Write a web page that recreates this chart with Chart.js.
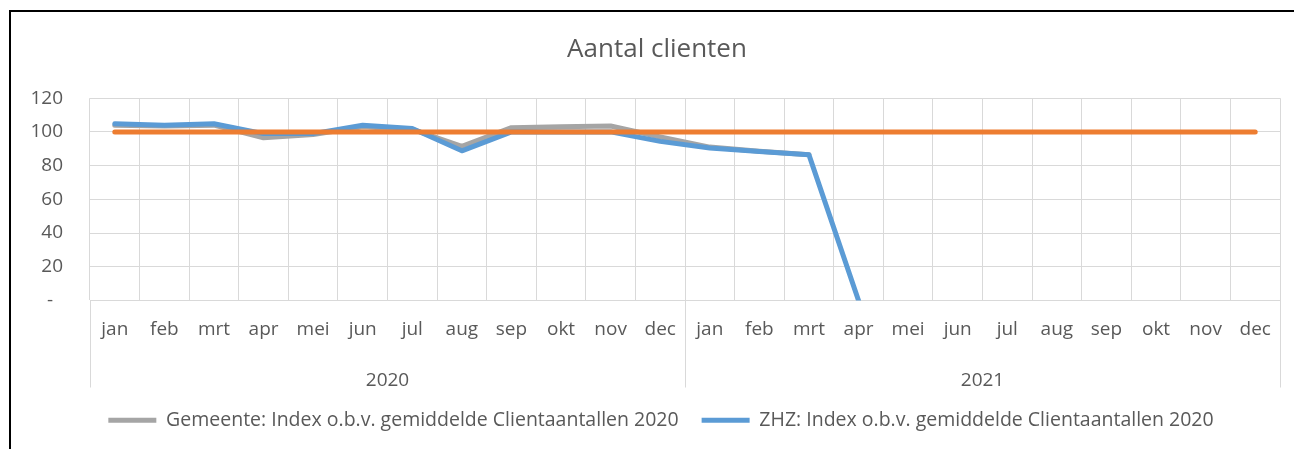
<!DOCTYPE html>
<html>
<head>
<meta charset="utf-8">
<script src="https://cdn.jsdelivr.net/npm/chart.js@4"></script>
<style>
  body { margin: 0; background: #fff; overflow: hidden; }
  #wrap { position: relative; width: 1294px; height: 449px; }
  #frame { position: absolute; left: 9px; top: 10px; width: 1400px; height: 600px;
           border-left: 2px solid #000; border-top: 2px solid #000; pointer-events: none; }
</style>
</head>
<body>
<div id="wrap">
  <canvas id="chart" width="1294" height="449"></canvas>
  <div id="frame"></div>
</div>
<script>
const months = ["jan", "feb", "mrt", "apr", "mei", "jun", "jul", "aug", "sep", "okt", "nov", "dec",
                "jan", "feb", "mrt", "apr", "mei", "jun", "jul", "aug", "sep", "okt", "nov", "dec"];
const years = ["2020", "2021"];

// index values
const gemeente = [104, 103.5, 104, 96.5, 98.5, 103, 101.5, 91.5, 102.5, 103, 103.5, 97,
                  91, 88.5, 86.5, null, null, null, null, null, null, null, null, null];
const zhz = [104.8, 104, 104.8, 99, 99, 104, 102, 88.8, 100, 100, 100, 94.4,
             90.4, 88.4, 86.4, 0, null, null, null, null, null, null, null, null];
const norm = [100, 100, 100, 100, 100, 100, 100, 100, 100, 100, 100, 100,
              100, 100, 100, 100, 100, 100, 100, 100, 100, 100, 100, 100];

const textColor = "#595959";
const gridColor = "#d9d9d9";

Chart.defaults.font.family = "'Open Sans', sans-serif";
Chart.defaults.color = textColor;

// vertical separators in the category area (start, year break, end)
const groupLines = {
  id: "groupLines",
  afterLayout(chart) {
    // the frame in the original is centred a bit right of the plot
    chart.legend.left += 21;
    chart.legend.right += 21;
    chart.titleBlock.left += 17;
    chart.titleBlock.right += 17;
  },
  afterDraw(chart) {
    const x = chart.scales.x, x2 = chart.scales.x2;
    const ctx = chart.ctx;
    const xs = [x.left, (x.getPixelForTick(11) + x.getPixelForTick(12)) / 2, x.right];
    ctx.save();
    ctx.strokeStyle = gridColor;
    ctx.lineWidth = 1;
    xs.forEach((px) => {
      ctx.beginPath();
      ctx.moveTo(Math.round(px) + 0.5, chart.chartArea.bottom);
      ctx.lineTo(Math.round(px) + 0.5, x2.bottom);
      ctx.stroke();
    });
    ctx.restore();
  },
};

const line = (label, data, color) => ({
  label: label,
  data: data,
  borderColor: color,
  backgroundColor: color,
  borderWidth: 5,
  pointRadius: 0,
  borderCapStyle: "round",
  borderJoinStyle: "round",
  tension: 0,
  spanGaps: false,
});

new Chart(document.getElementById("chart"), {
  type: "line",
  data: {
    labels: months,
    datasets: [
      { ...line("Norm", norm, "#ed7d31"), order: 0 },
      { ...line("ZHZ: Index o.b.v. gemiddelde Clientaantallen 2020", zhz, "#5b9bd5"), order: 1 },
      { ...line("Gemeente: Index o.b.v. gemiddelde Clientaantallen 2020", gemeente, "#a5a5a5"), order: 2 },
    ],
  },
  options: {
    responsive: false,
    animation: false,
    devicePixelRatio: 1,
    layout: { padding: { left: 0, right: 14, top: 0, bottom: 9 } },
    plugins: {
      tooltip: { enabled: false },
      title: {
        display: true,
        text: "Aantal clienten",
        color: textColor,
        font: { size: 26, weight: "normal" },
        padding: { top: 34, bottom: 33 },
      },
      legend: {
        position: "bottom",
        reverse: true,
        labels: {
          boxWidth: 48,
          boxHeight: 5,
          color: textColor,
          font: { size: 19.5 },
          padding: 23,
          filter: (item) => item.text !== "Norm",
          generateLabels: (chart) =>
            Chart.defaults.plugins.legend.labels.generateLabels(chart).map((l) => ({ ...l, lineWidth: 0 })),
        },
      },
    },
    scales: {
      y: {
        min: 0,
        max: 120,
        ticks: {
          stepSize: 20,
          padding: 27,
          font: { size: 19 },
          callback: (v) => (v === 0 ? "-  " : v),
        },
        grid: { color: gridColor, drawTicks: false },
        border: { display: false },
        afterFit: (scale) => { scale.width = 90; },
      },
      x: {
        weight: 0,
        offset: true,
        grid: { offset: true, color: gridColor, drawTicks: false },
        border: { color: gridColor },
        ticks: { autoSkip: false, maxRotation: 0, padding: 18, font: { size: 19 } },
        afterFit: (scale) => { scale.height = 44; },
      },
      x2: {
        type: "category",
        labels: years,
        weight: 1,
        offset: true,
        grid: { display: false },
        border: { display: false },
        ticks: { padding: 17, font: { size: 19 } },
        afterFit: (scale) => { scale.height = 43; },
      },
    },
  },
  plugins: [groupLines],
});
</script>
</body>
</html>
